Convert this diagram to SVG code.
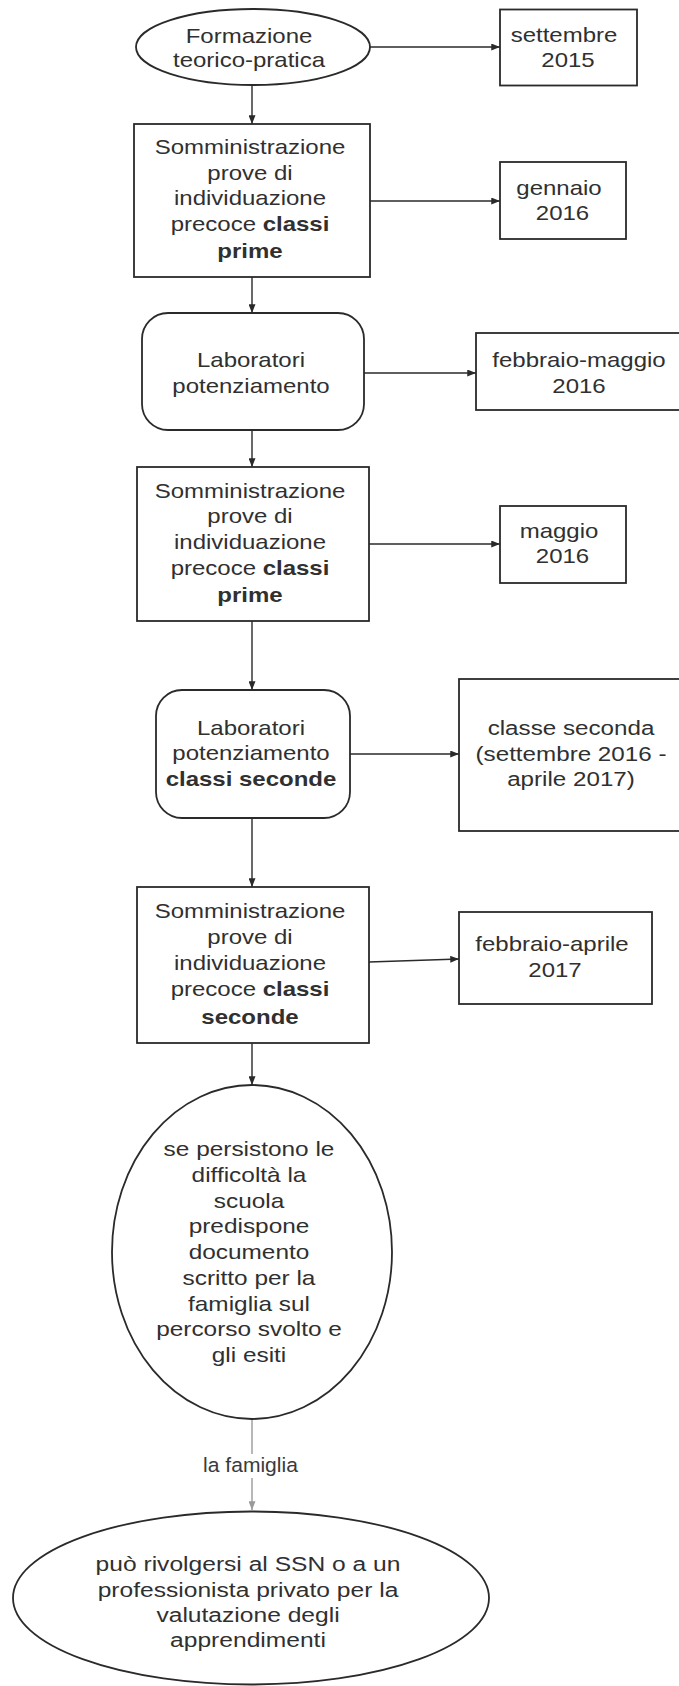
<svg xmlns="http://www.w3.org/2000/svg" width="679" height="1686" viewBox="0 0 679 1686">
  <style>
    .shape { fill: #ffffff; stroke: #2a2a2a; stroke-width: 1.8; }
    .edge { fill: none; stroke: #2a2a2a; stroke-width: 1.4; }
    .edge-soft { fill: none; stroke: #9a9a9a; stroke-width: 1.4; }
    text { font-family: "Liberation Sans", Arial, sans-serif; font-size: 20px; fill: #303030; text-anchor: middle; }
    .b { font-weight: bold; }
    .small { font-size: 19.5px; fill: #3a3a3a; }
  </style>
  <defs>
    <marker id="arrow" viewBox="0 0 10 8" refX="10" refY="4" markerWidth="9" markerHeight="7" markerUnits="userSpaceOnUse" orient="auto">
      <path d="M0,0 L10,4 L0,8 z" fill="#2a2a2a"/>
    </marker>
    <marker id="arrow-soft" viewBox="0 0 10 8" refX="10" refY="4" markerWidth="9" markerHeight="7" markerUnits="userSpaceOnUse" orient="auto">
      <path d="M0,0 L10,4 L0,8 z" fill="#9a9a9a"/>
    </marker>
  </defs>

  <rect x="0" y="0" width="679" height="1686" fill="#ffffff"/>

  <!-- connectors -->
  <g id="connectors">
    <line class="edge" x1="370" y1="47" x2="500" y2="47" marker-end="url(#arrow)"/>
    <line class="edge" x1="252" y1="85" x2="252" y2="124" marker-end="url(#arrow)"/>
    <line class="edge" x1="370" y1="201" x2="500" y2="201" marker-end="url(#arrow)"/>
    <line class="edge" x1="252" y1="277" x2="252" y2="313" marker-end="url(#arrow)"/>
    <line class="edge" x1="364" y1="373" x2="476" y2="373" marker-end="url(#arrow)"/>
    <line class="edge" x1="252" y1="430" x2="252" y2="467" marker-end="url(#arrow)"/>
    <line class="edge" x1="369" y1="544" x2="500" y2="544" marker-end="url(#arrow)"/>
    <line class="edge" x1="252" y1="621" x2="252" y2="690" marker-end="url(#arrow)"/>
    <line class="edge" x1="350" y1="754" x2="459" y2="754" marker-end="url(#arrow)"/>
    <line class="edge" x1="252" y1="818" x2="252" y2="887" marker-end="url(#arrow)"/>
    <line class="edge" x1="369" y1="962" x2="459" y2="959" marker-end="url(#arrow)"/>
    <line class="edge" x1="252" y1="1043" x2="252" y2="1085" marker-end="url(#arrow)"/>
    <line class="edge-soft" x1="252" y1="1419" x2="252" y2="1510" marker-end="url(#arrow-soft)"/>
    <rect x="200" y="1454" width="102" height="24" fill="#ffffff"/>
    <g transform="translate(250.5 0) scale(1.08 1)">
      <text class="small" x="0" y="1472.5">la famiglia</text>
    </g>
  </g>

  <!-- training -->
  <g id="formazione">
    <ellipse class="shape" cx="253" cy="47" rx="117" ry="38"/>
    <g transform="translate(249 0) scale(1.2 1)">
      <text x="0" y="43">Formazione</text>
      <text x="0" y="67">teorico-pratica</text>
    </g>
  </g>

  <g id="settembre-2015">
    <rect class="shape" x="500" y="9.5" width="137" height="76"/>
    <g transform="translate(564 0) scale(1.2 1)">
      <text x="0" y="42">settembre</text>
    </g>
    <g transform="translate(568 0) scale(1.2 1)">
      <text x="0" y="67">2015</text>
    </g>
  </g>

  <!-- first screening -->
  <g id="prove-prime-1">
    <rect class="shape" x="134" y="124" width="236" height="153"/>
    <g transform="translate(250 0) scale(1.2 1)">
      <text x="0" y="154">Somministrazione</text>
      <text x="0" y="180">prove di</text>
      <text x="0" y="205.5">individuazione</text>
      <text x="0" y="231.5">precoce <tspan class="b">classi</tspan></text>
      <text class="b" x="0" y="258">prime</text>
    </g>
  </g>

  <g id="gennaio-2016">
    <rect class="shape" x="500" y="162" width="126" height="77"/>
    <g transform="translate(559 0) scale(1.2 1)">
      <text x="0" y="195">gennaio</text>
    </g>
    <g transform="translate(562.5 0) scale(1.2 1)">
      <text x="0" y="220">2016</text>
    </g>
  </g>

  <!-- first workshops -->
  <g id="laboratori-1">
    <rect class="shape" x="142" y="313" width="222" height="117" rx="26" ry="26"/>
    <g transform="translate(251 0) scale(1.2 1)">
      <text x="0" y="367">Laboratori</text>
      <text x="0" y="393">potenziamento</text>
    </g>
  </g>

  <!-- this box runs past the right edge of the page -->
  <g id="febbraio-maggio-2016">
    <rect class="shape" x="476" y="333" width="220" height="77"/>
    <g transform="translate(579 0) scale(1.2 1)">
      <text x="0" y="367">febbraio-maggio</text>
      <text x="0" y="393">2016</text>
    </g>
  </g>

  <!-- second screening -->
  <g id="prove-prime-2">
    <rect class="shape" x="137" y="467" width="232" height="154"/>
    <g transform="translate(250 0) scale(1.2 1)">
      <text x="0" y="498">Somministrazione</text>
      <text x="0" y="523.5">prove di</text>
      <text x="0" y="549.5">individuazione</text>
      <text x="0" y="575.5">precoce <tspan class="b">classi</tspan></text>
      <text class="b" x="0" y="602.5">prime</text>
    </g>
  </g>

  <g id="maggio-2016">
    <rect class="shape" x="500" y="506" width="126" height="77"/>
    <g transform="translate(559 0) scale(1.2 1)">
      <text x="0" y="538.5">maggio</text>
    </g>
    <g transform="translate(562.5 0) scale(1.2 1)">
      <text x="0" y="563.5">2016</text>
    </g>
  </g>

  <!-- second-year workshops -->
  <g id="laboratori-2">
    <rect class="shape" x="156" y="690" width="194" height="128" rx="26" ry="26"/>
    <g transform="translate(251 0) scale(1.2 1)">
      <text x="0" y="735">Laboratori</text>
      <text x="0" y="760">potenziamento</text>
      <text class="b" x="0" y="786">classi seconde</text>
    </g>
  </g>

  <!-- this box runs past the right edge of the page -->
  <g id="classe-seconda">
    <rect class="shape" x="459" y="679" width="240" height="152"/>
    <g transform="translate(571 0) scale(1.21 1)">
      <text x="0" y="735">classe seconda</text>
      <text x="0" y="761.5">(settembre 2016 -</text>
      <text x="0" y="786.5">aprile 2017)</text>
    </g>
  </g>

  <!-- second-year screening -->
  <g id="prove-seconde">
    <rect class="shape" x="137" y="887" width="232" height="156"/>
    <g transform="translate(250 0) scale(1.2 1)">
      <text x="0" y="918">Somministrazione</text>
      <text x="0" y="944">prove di</text>
      <text x="0" y="970">individuazione</text>
      <text x="0" y="996.5">precoce <tspan class="b">classi</tspan></text>
      <text class="b" x="0" y="1024">seconde</text>
    </g>
  </g>

  <g id="febbraio-aprile-2017">
    <rect class="shape" x="459" y="912" width="193" height="92"/>
    <g transform="translate(552 0) scale(1.2 1)">
      <text x="0" y="951">febbraio-aprile</text>
    </g>
    <g transform="translate(555 0) scale(1.2 1)">
      <text x="0" y="977">2017</text>
    </g>
  </g>

  <!-- school report -->
  <g id="documento-scuola">
    <ellipse class="shape" cx="252" cy="1252" rx="140" ry="167"/>
    <g transform="translate(249 0) scale(1.22 1)">
      <text x="0" y="1156.5">se persistono le</text>
      <text x="0" y="1182.5">difficoltà la</text>
      <text x="0" y="1208.5">scuola</text>
      <text x="0" y="1233.5">predispone</text>
      <text x="0" y="1259.5">documento</text>
      <text x="0" y="1285.5">scritto per la</text>
      <text x="0" y="1311">famiglia sul</text>
      <text x="0" y="1336.5">percorso svolto e</text>
      <text x="0" y="1362.5">gli esiti</text>
    </g>
  </g>

  <!-- family next step -->
  <g id="valutazione">
    <ellipse class="shape" cx="251" cy="1598" rx="238" ry="86.5"/>
    <g transform="translate(248 0) scale(1.23 1)">
      <text x="0" y="1571">può rivolgersi al SSN o a un</text>
      <text x="0" y="1597">professionista privato per la</text>
      <text x="0" y="1622">valutazione degli</text>
      <text x="0" y="1647">apprendimenti</text>
    </g>
  </g>
</svg>
